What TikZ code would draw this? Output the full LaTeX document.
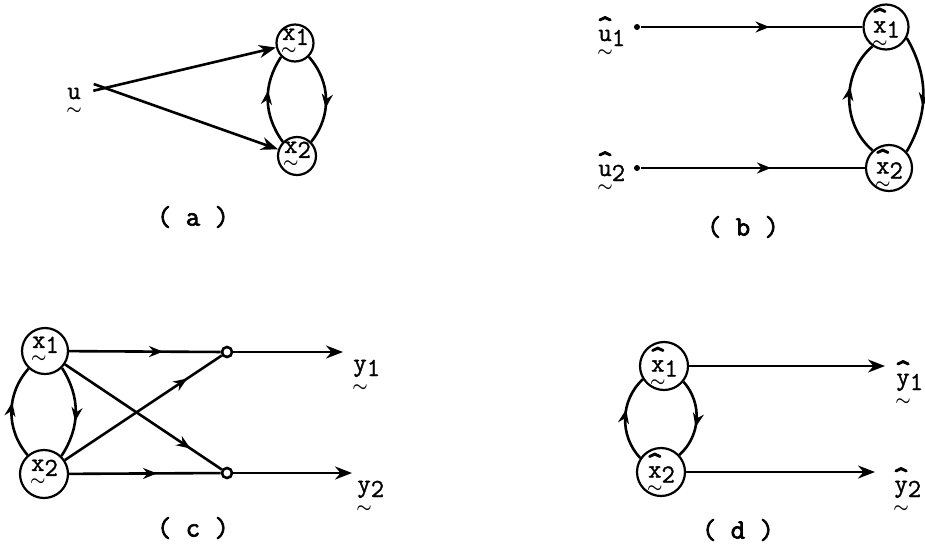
\documentclass[tikz,border=0pt]{standalone}
\usepackage{amsmath}
\usepackage{fontspec}
\usetikzlibrary{arrows.meta,decorations.markings,calc}
\newfontfamily\capfont{Latin Modern Mono}[FakeBold=2.5]
\newfontfamily\labfont{Latin Modern Mono}[FakeBold=1.2]
\newfontfamily\hatfont{Latin Modern Mono}[FakeBold=3,Scale=1.2]
\newcommand\hx[1]{\setbox0\hbox{\labfont #1}\hbox{\rlap{\hbox to\wd0{\hss\raisebox{5pt}{\hatfont\char94}\hss}}\box0}}
\newcommand\vv[2]{$\underset{\boldsymbol{\sim}}{\hbox{\labfont #1}}$\kern-1pt\raisebox{-5pt}{\labfont #2}}
\newcommand\vh[2]{$\underset{\boldsymbol{\sim}}{\hbox{\hx{#1}}}$\kern-1pt\raisebox{-5pt}{\labfont #2}}
\begin{document}
\begin{tikzpicture}[x=1pt,y=1pt,
  line width=2.6pt,
  circ/.style={circle,draw,line width=2.2pt,inner sep=0pt,minimum size=#1},
  lab/.style={font=\fontsize{26}{30}\selectfont,inner sep=0pt},
  captxt/.style={font=\fontsize{28}{32}\selectfont\capfont,inner sep=0pt},
  endarr/.style={-{Stealth[length=17pt,width=13pt]}},
  midarr/.style={postaction={decorate,decoration={markings,mark=at position #1 with {\arrow{Stealth[length=14pt,width=11pt]}}}}},
  midarr/.default=0.6,
  sc/.style={circle,draw,fill=white,line width=2.6pt,inner sep=0pt,minimum size=10pt},
  dotnode/.style={circle,fill,inner sep=0pt,minimum size=6pt}]
\useasboundingbox (0,0) rectangle (925,-550);

% ---------- (a)
\node[circ=37] (a1) at (295,-43) {};
\node[lab] (a1t) at (a1) {\vv{x}{1}};
\node[circ=38] (a2) at (297,-156) {};
\node[lab] (a2t) at (a2) {\vv{x}{2}};
\node[lab,anchor=base west] (au) at (65,-99) {\vv{u}{}};
\coordinate (aj) at (105,-88);
\draw[endarr] ($(aj)!-12pt!(a1)$) -- (a1);
\draw[endarr] ($(aj)!-12pt!(a2)$) -- (a2);
\draw[midarr] (a2.135) to[bend left=35] (a1.225);
\draw[midarr] (a1.-45) to[bend left=40] (a2.45);
\node[captxt] (capa) at (193,-217) {( a )};

% ---------- (b)
\node[circ=45] (b1) at (886,-27) {};
\node[lab] (b1t) at ([yshift=-2pt]b1) {\vh{x}{1}};
\node[circ=46] (b2) at (889,-168) {};
\node[lab] (b2t) at ([yshift=-2pt]b2) {\vh{x}{2}};
\node[dotnode] (bd1) at (637,-27) {};
\node[dotnode] (bd2) at (637,-168) {};
\draw[midarr=0.58] (bd1) -- (b1);
\draw[midarr=0.58] (bd2) -- (b2);
\node[lab,anchor=base west] (bu1) at (596,-41) {\vh{u}{1}};
\node[lab,anchor=base west] (bu2) at (596,-176) {\vh{u}{2}};
\draw[midarr] (b2.133) to[bend left=50] (b1.235);
\draw[midarr] (b1.-28) to[bend left=30] (b2.43);
\node[captxt] (capb) at (743,-227) {( b )};

% ---------- (c)
\node[circ=46] (c1) at (45,-351) {};
\node[lab] (c1t) at (c1) {\vv{x}{1}};
\node[circ=48] (c2) at (44,-474) {};
\node[lab] (c2t) at (c2) {\vv{x}{2}};
\node[sc] (s1) at (227,-352) {};
\node[sc] (s2) at (227,-473) {};
\coordinate (cy1) at (343,-352);
\coordinate (cy2) at (352,-473);
\draw[midarr=0.62] (c1) -- (s1);
\draw[midarr=0.58] (c2) -- (s2);
\draw[midarr=0.8] (c1) -- (s2);
\draw[midarr=0.78] (c2) -- (s1);
\draw[endarr] (s1) -- (cy1);
\draw[endarr] (s2) -- (cy2);
\draw[midarr] (c2.131) to[bend left=41] (c1.227);
\draw[midarr] (c1.-45) to[bend left=33] (c2.46);
\node[lab,anchor=base west] (cl1) at (351,-371) {\vv{y}{1}};
\node[lab,anchor=base west] (cl2) at (355,-492) {\vv{y}{2}};
\node[captxt] (capc) at (193,-528) {( c )};

% ---------- (d)
\node[circ=48] (d1) at (664,-366) {};
\node[lab] (d1t) at ([yshift=-2pt]d1) {\vh{x}{1}};
\node[circ=48] (d2) at (661,-472) {};
\node[lab] (d2t) at ([yshift=-2pt]d2) {\vh{x}{2}};
\coordinate (dy1) at (885,-366);
\coordinate (dy2) at (875,-472);
\draw[endarr] (d1) -- (dy1);
\draw[endarr] (d2) -- (dy2);
\draw[midarr] (d2.146) to[bend left=45] (d1.212);
\draw[midarr] (d1.-39) to[bend left=45] (d2.43);
\node[lab,anchor=base west] (dl1) at (894,-385) {\vh{y}{1}};
\node[lab,anchor=base west] (dl2) at (892,-492) {\vh{y}{2}};
\node[captxt] (capd) at (738,-530) {( d )};
\end{tikzpicture}
\end{document}
